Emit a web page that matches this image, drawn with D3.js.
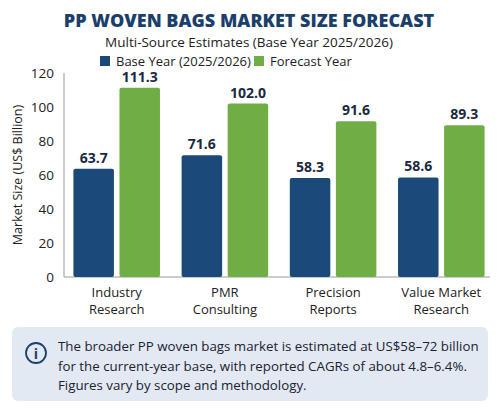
<!DOCTYPE html>
<html><head><meta charset="utf-8">
<script src="https://cdn.jsdelivr.net/npm/d3@7"></script>
<style>body{margin:0;background:#fff;font-family:"Open Sans",sans-serif}</style>
</head><body>
<svg id="chart" width="498" height="418"></svg>
<script>
var sources = ["Industry Research", "PMR Consulting", "Precision Reports", "Value Market Research"];
var sourceLines = [["Industry", "Research"], ["PMR", "Consulting"], ["Precision", "Reports"], ["Value Market", "Research"]];
var baseValues = [63.7, 71.6, 58.3, 58.6];
var forecastValues = [111.3, 102.0, 91.6, 89.3];
var yTicks = [0, 20, 40, 60, 80, 100, 120];
var seriesNames = ["Base Year (2025/2026)", "Forecast Year"];
var colors = ["#1b4a7a", "#6fae45"];

var svg = d3.select("#chart");

svg.append("text").attr("x", 249).attr("y", 27).attr("text-anchor", "middle")
    .attr("font-size", "18px").attr("font-weight", 800).attr("fill", "#1b3f6b")
    .text("PP WOVEN BAGS MARKET SIZE FORECAST");
svg.append("text").attr("x", 249).attr("y", 47).attr("text-anchor", "middle")
    .attr("font-size", "13.5px").attr("fill", "#222")
    .text("Multi-Source Estimates (Base Year 2025/2026)");

var y = d3.scaleLinear().domain([0, 120]).range([277, 73]);
var x = d3.scaleBand().domain(sources).range([68, 490]).paddingInner(0.2).paddingOuter(0.05);
var inner = d3.scaleBand().domain([0, 1]).range([0, x.bandwidth()]).paddingInner(0.12);

svg.append("line").attr("x1", 64).attr("x2", 64).attr("y1", 73).attr("y2", 277).attr("stroke", "#999");
svg.append("line").attr("x1", 64).attr("x2", 490).attr("y1", 277).attr("y2", 277).attr("stroke", "#999");

svg.selectAll("text.tick").data(yTicks).enter().append("text")
    .attr("x", 54).attr("y", function(d) { return y(d) + 5; })
    .attr("text-anchor", "end").attr("font-size", "13.5px").attr("fill", "#222")
    .text(function(d) { return d; });

svg.append("text").attr("transform", "translate(22,175) rotate(-90)")
    .attr("text-anchor", "middle").attr("font-size", "12.5px").attr("fill", "#222")
    .text("Market Size (US$ Billion)");

[baseValues, forecastValues].forEach(function(vals, s) {
    svg.selectAll("rect.s" + s).data(vals).enter().append("rect")
        .attr("x", function(d, i) { return x(sources[i]) + inner(s); })
        .attr("y", function(d) { return y(d); })
        .attr("width", inner.bandwidth())
        .attr("height", function(d) { return 277 - y(d); })
        .attr("rx", 2).attr("fill", colors[s]);
    svg.selectAll("text.v" + s).data(vals).enter().append("text")
        .attr("x", function(d, i) { return x(sources[i]) + inner(s) + inner.bandwidth() / 2; })
        .attr("y", function(d) { return y(d) - 6; })
        .attr("text-anchor", "middle").attr("font-size", "14px").attr("font-weight", 700).attr("fill", "#1a2a40")
        .text(function(d) { return d.toFixed(1); });
});

sourceLines.forEach(function(lines, i) {
    lines.forEach(function(t, j) {
        svg.append("text").attr("x", x(sources[i]) + x.bandwidth() / 2).attr("y", 297 + j * 17)
            .attr("text-anchor", "middle").attr("font-size", "13px").attr("fill", "#222").text(t);
    });
});

var legX = [100, 254];
seriesNames.forEach(function(n, i) {
    svg.append("rect").attr("x", legX[i]).attr("y", 56).attr("width", 10).attr("height", 10).attr("fill", colors[i]);
    svg.append("text").attr("x", legX[i] + 16).attr("y", 66).attr("font-size", "13px").attr("fill", "#222").text(n);
});

svg.append("rect").attr("x", 12).attr("y", 327).attr("width", 476).attr("height", 74).attr("rx", 6).attr("fill", "#e3e9f3");
svg.append("circle").attr("cx", 36).attr("cy", 353).attr("r", 10).attr("fill", "none").attr("stroke", "#1b3f6b").attr("stroke-width", 1.8);
svg.append("text").attr("x", 36).attr("y", 358.5).attr("text-anchor", "middle").attr("font-size", "14px").attr("font-weight", 700).attr("fill", "#1b3f6b").text("i");
var note = ["The broader PP woven bags market is estimated at US$58\u201372 billion",
    "for the current-year base, with reported CAGRs of about 4.8\u20136.4%.",
    "Figures vary by scope and methodology."];
note.forEach(function(t, i) {
    svg.append("text").attr("x", 58).attr("y", 351 + i * 19.5).attr("font-size", "13.3px").attr("fill", "#1a2230").text(t);
});
</script>
</body></html>
